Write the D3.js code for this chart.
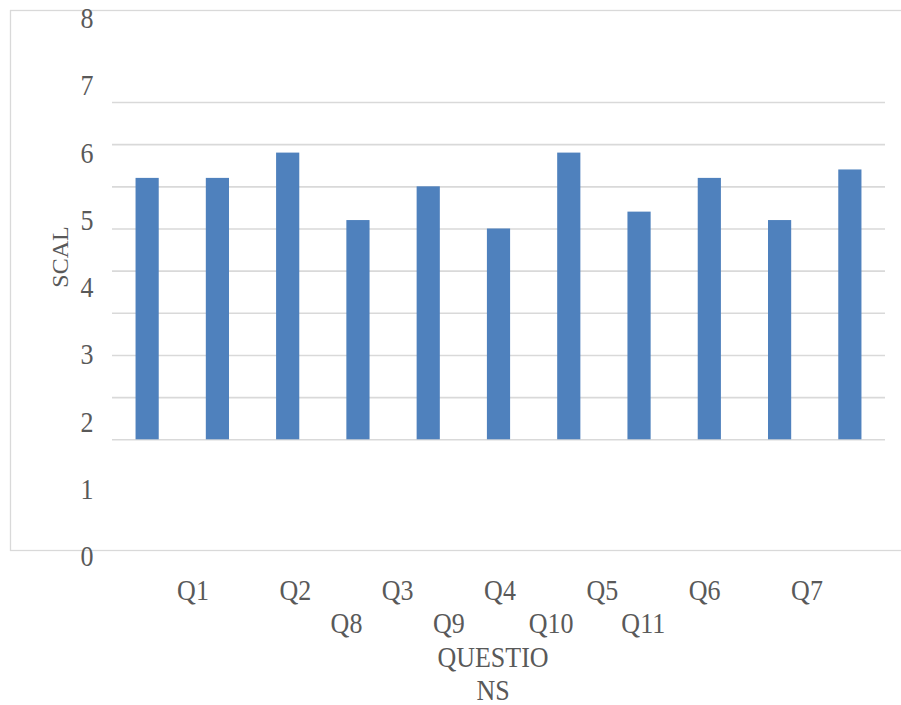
<!DOCTYPE html>
<html><head><meta charset="utf-8">
<script src="https://cdn.jsdelivr.net/npm/d3@7"></script>
<style>
html,body{margin:0;padding:0;background:#fff;}
svg{display:block;}
text{font-family:"Liberation Serif","Times New Roman",serif;fill:#595959;}
</style></head>
<body>
<script>
// ---- data ----
const categories = ["Q1","Q2","Q3","Q4","Q5","Q6","Q7","Q8","Q9","Q10","Q11"];
const values     = [6.2, 6.2, 6.8, 5.2, 6.0, 5.0, 6.8, 5.4, 6.2, 5.2, 6.4];
const yTicks     = [0,1,2,3,4,5,6,7,8];
// x label slot positions (as drawn in the reference, staggered into two rows)
const xLabels    = ["Q1","Q2","Q3","Q4","Q5","Q6","Q7","Q8","Q9","Q10","Q11"];
const xLabelSlot = [0, 1, 2, 3, 4, 5, 6, 1.5, 2.5, 3.5, 4.4];
const xLabelRow  = [0, 0, 0, 0, 0, 0, 0, 1, 1, 1, 1];
const xTitleLines = ["QUESTIO","NS"];
const yTitle = "SCAL";

const W = 901, H = 705;
const SY = 1.12; // vertical stretch of the reference's lettering
const svg = d3.select("body").append("svg").attr("width", W).attr("height", H);

// chart area border
svg.append("rect").attr("x",10.5).attr("y",10.5).attr("width",W+20).attr("height",540)
  .attr("fill","none").attr("stroke","#d9d9d9").attr("stroke-width",1.3);

// plot scales
const x = d3.scaleBand().domain(categories).range([112,885]).paddingInner(0.67).paddingOuter(0.335);
const y = d3.scaleLinear().domain([0,8]).range([439.3,102]);
// tick-label placement scale (labels are spread over the full height in the reference)
const yLab = d3.scaleLinear().domain([0,8]).range([557,19]);
const xLab = d3.scaleLinear().domain([0,6]).range([193,807]);

// gridlines
svg.append("g")
  .call(d3.axisLeft(y).tickValues(yTicks).tickSize(-(885-112)).tickFormat(""))
  .call(g=>g.attr("transform","translate(112,0)"))
  .call(g=>g.select(".domain").remove())
  .call(g=>g.selectAll("line").attr("stroke","#d9d9d9").attr("stroke-width",1.6));

// bars
svg.append("g").selectAll("rect").data(categories).join("rect")
  .attr("x", d=>x(d)).attr("width", x.bandwidth())
  .attr("y", (d,i)=>y(values[i])).attr("height",(d,i)=>y(0)-y(values[i]))
  .attr("fill","#4f81bd");

// y tick labels
svg.append("g").selectAll("text").data(yTicks).join("text")
  .attr("transform", d=>`translate(87,${yLab(d)+9}) scale(1,${SY})`)
  .attr("text-anchor","middle").attr("font-size",26).text(d=>d);

// y title
svg.append("text").attr("transform","translate(60,257) rotate(-90)")
  .attr("text-anchor","middle").attr("dy","0.35em").attr("font-size",24).text(yTitle);

// x labels
const rowY = [600, 633];
svg.append("g").selectAll("text").data(xLabels).join("text")
  .attr("transform",(d,i)=>`translate(${xLab(xLabelSlot[i])},${rowY[xLabelRow[i]]}) scale(1,${SY})`)
  .attr("text-anchor","middle").attr("font-size",26).text(d=>d);

// x title
svg.append("g").selectAll("text").data(xTitleLines).join("text")
  .attr("transform",(d,i)=>`translate(493,${667+i*33}) scale(1,${SY})`)
  .attr("text-anchor","middle").attr("font-size",26).text(d=>d);
</script>
</body></html>
